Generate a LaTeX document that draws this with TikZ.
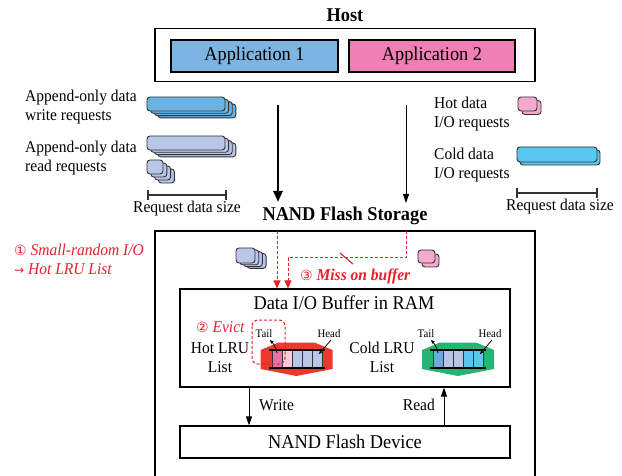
\documentclass[tikz,border=0pt]{standalone}
\usepackage{fontspec}
\setmainfont{Liberation Serif}[FakeStretch=0.94]
\newfontfamily\symfont{DejaVu Sans}
\usetikzlibrary{arrows.meta,calc}
\definecolor{appone}{HTML}{7EB4E2}
\definecolor{apptwo}{HTML}{F07FB3}
\definecolor{wbar}{HTML}{6BB3E3}
\definecolor{rbar}{HTML}{B8C7E8}
\definecolor{hpink}{HTML}{F5A9CE}
\definecolor{cbar}{HTML}{5BC6F0}
\definecolor{rd}{HTML}{E8202A}
\definecolor{hexred}{HTML}{EA3A2E}
\definecolor{hexgreen}{HTML}{27B472}
\definecolor{outl}{HTML}{333333}
\definecolor{cmag}{HTML}{E870A8}
\definecolor{clpink}{HTML}{F8C8DC}
\definecolor{cblue}{HTML}{6FA8DC}
\newcommand{\stackbars}[8]{\foreach \i in {#5,...,0}{\draw[blk,fill=#8] ({#1+\i*#6},{#2+\i*#7}) rectangle ++(#3,#4);}}
\newcommand{\hexband}[2]{\fill[#2] ({#1-36},350) -- ({#1-18},342.5) -- ({#1+18},342.5) -- ({#1+36},350) -- ({#1+36},369) -- (#1,376) -- ({#1-36},369) -- cycle;}
\newcommand{\cellrow}[6]{\foreach \c [count=\k from 0] in {#2,#3,#4,#5,#6}{\draw[cellline,fill=\c] ({#1+\k*10},350) rectangle ++(10,18);}
\draw[rail] ({#1-3},350) -- ({#1+53},350); \draw[rail] ({#1-3},368) -- ({#1+53},368);}
\begin{document}
\begin{tikzpicture}[x=1pt,y=-1pt,
  box/.style={draw,line width=1.1pt,inner sep=0pt},
  big/.style={font=\fontsize{19.5pt}{22pt}\selectfont},
  med/.style={font=\fontsize{16.5pt}{19pt}\selectfont,inner sep=0pt},
  bigbold/.style={font=\fontsize{19.5pt}{22pt}\selectfont\bfseries,inner sep=0pt},
  redtxt/.style={text=rd,font=\fontsize{16.5pt}{19pt}\selectfont\itshape,inner sep=0pt,align=left},
  small/.style={font=\fontsize{11.5pt}{13pt}\selectfont,inner sep=0pt},
  blk/.style={draw=outl,line width=0.9pt,rounded corners=3pt},
  cellline/.style={draw=outl,line width=0.6pt},
  rail/.style={draw=black,line width=1.8pt},
  thickarr/.style={line width=2.6pt,-{Triangle[length=11pt,width=9pt]}},
  thinarr/.style={line width=1pt,-{Triangle[length=9pt,width=6pt]}},
  redarr/.style={draw=rd,line width=1pt,dashed,dash pattern=on 3pt off 2pt,-{Triangle[length=8pt,width=7pt,fill=rd]}},
  ptr/.style={line width=0.8pt,-{Stealth[length=4pt,width=3.5pt]}},
  scalebar/.style={line width=1.2pt,draw=outl}]
\useasboundingbox (0,0) rectangle (622,476);

% Host
\node[bigbold] (hostlbl) at (345,15) {Host};
\node[box,minimum width=380pt,minimum height=53pt] (host) at (345,55) {};
\node[box,fill=appone,minimum width=167pt,minimum height=32pt,big] (app1) at (254.5,56) {Application 1};
\node[box,fill=apptwo,minimum width=166pt,minimum height=32pt,big] (app2) at (432,56) {Application 2};

% left request descriptions
\node[med,anchor=west,align=left] (wreq) at (25,107.5) {Append-only data\\write requests};
\node[med,anchor=west,align=left] (rreq) at (25,158.5) {Append-only data\\read requests};
\stackbars{147}{97}{78}{14}{3}{3.6}{2.3}{wbar}
\stackbars{147}{136}{78}{14}{3}{3.6}{2.3}{rbar}
\stackbars{147}{160}{16}{14}{3}{3.8}{3}{rbar}
\coordinate (sl1) at (148,195); \coordinate (sl2) at (226,195);
\draw[scalebar] (sl1) -- (sl2);
\draw[scalebar] ($(sl1)+(0,-5)$) -- ($(sl1)+(0,5)$);
\draw[scalebar] ($(sl2)+(0,-5)$) -- ($(sl2)+(0,5)$);
\node[med] (rdsL) at (187,209) {Request data size};

% right request descriptions
\node[med,anchor=west,align=left] (hreq) at (434,114.5) {Hot data\\I/O requests};
\node[med,anchor=west,align=left] (creq) at (434,165.5) {Cold data\\I/O requests};
\stackbars{518}{97}{19}{14}{1}{4}{3.5}{hpink}
\stackbars{517}{147}{80}{15}{1}{3}{3}{cbar}
\coordinate (sr1) at (517,193); \coordinate (sr2) at (597,193);
\draw[scalebar] (sr1) -- (sr2);
\draw[scalebar] ($(sr1)+(0,-5)$) -- ($(sr1)+(0,5)$);
\draw[scalebar] ($(sr2)+(0,-5)$) -- ($(sr2)+(0,5)$);
\node[med] (rdsR) at (560,207) {Request data size};

% host arrows
\coordinate (a1s) at (278,105); \coordinate (a1e) at (278,202);
\coordinate (a2s) at (406,105); \coordinate (a2e) at (406,203);
\draw[thickarr] (a1s) -- (a1e);
\draw[thinarr] (a2s) -- (a2e);

% storage
\node[bigbold] (stlbl) at (345,216) {NAND Flash Storage};
\coordinate (stbl) at (155,480); \coordinate (sttl) at (155,231);
\coordinate (sttr) at (535,231); \coordinate (stbr) at (535,480);
\draw[line width=1.2pt] (stbl) -- (sttl) -- (sttr) -- (stbr);

\node[redtxt,anchor=west] (smallrand) at (14,259.5) {{\symfont\fontsize{14pt}{19pt}\selectfont\char"2460} Small-random I/O\\{\symfont\fontsize{12pt}{19pt}\selectfont →} Hot LRU List};

\stackbars{236}{248}{19}{15}{3}{3.7}{1.8}{rbar}
\stackbars{418}{250}{17}{13}{1}{4}{4}{hpink}

% buffer
\node[box,minimum width=330pt,minimum height=98pt] (buf) at (345,338) {};
\node[big,inner sep=0pt] (buflbl) at (344,303) {Data I/O Buffer in RAM};

\coordinate (r1s) at (277,231);
\coordinate (r2s) at (406,231);
\coordinate (r2a) at (406,258);
\coordinate (r2b) at (288,258);
\draw[redarr] (r1s) -- (r1s |- buf.north);
\draw[redarr] (r2s) -- (r2a) -- (r2b) -- (r2b |- buf.north);
\coordinate (sla) at (340,253); \coordinate (slb) at (353,264);
\draw[rd,line width=1.2pt] (sla) -- (slb);
\node[redtxt,anchor=west,font=\fontsize{16.5pt}{19pt}\selectfont\bfseries\itshape] (miss) at (300,276) {{\symfont\mdseries\fontsize{14pt}{19pt}\selectfont\char"2462} Miss on buffer};

% LRU lists
\hexband{296.5}{hexred}
\hexband{458}{hexgreen}
\cellrow{272}{cmag}{clpink}{rbar}{rbar}{rbar}
\cellrow{433}{cblue}{rbar}{rbar}{cbar}{cbar}

\node[med,align=center] (hotl) at (220,357.5) {Hot LRU\\List};
\node[med,align=center] (coldl) at (382,357.5) {Cold LRU\\List};
\node[redtxt,anchor=west] (evict) at (196,327) {{\symfont\fontsize{14pt}{19pt}\selectfont\char"2461} Evict};
\draw[rd,line width=1pt,dashed,dash pattern=on 3pt off 2pt,rounded corners=6pt] (252,320) rectangle (285,364);

\node[small] (tailh) at (264,334) {Tail};
\node[small] (headh) at (329,334) {Head};
\node[small] (tailc) at (426,334) {Tail};
\node[small] (headc) at (490,334) {Head};
\coordinate (th1) at (277,353); \coordinate (th2) at (270,340);
\coordinate (hh1) at (331,340); \coordinate (hh2) at (319,354);
\coordinate (tc1) at (438,353); \coordinate (tc2) at (431,340);
\coordinate (hc1) at (492,340); \coordinate (hc2) at (480,354);
\draw[ptr] (th1) to[bend right=15] (th2);
\draw[ptr] (hh1) -- (hh2);
\draw[ptr] (tc1) to[bend right=15] (tc2);
\draw[ptr] (hc1) -- (hc2);

% device
\node[box,minimum width=330pt,minimum height=32pt,big] (dev) at (345,442) {NAND Flash Device};
\coordinate (wx) at (249,0); \coordinate (rx) at (444,0);
\draw[thinarr] (wx |- buf.south) -- (wx |- dev.north);
\draw[thinarr] (rx |- dev.north) -- (rx |- buf.south);
\node[med,anchor=west] (wlbl) at (259,405) {Write};
\node[med,anchor=east] (rlbl) at (435,405) {Read};
\end{tikzpicture}
\end{document}
